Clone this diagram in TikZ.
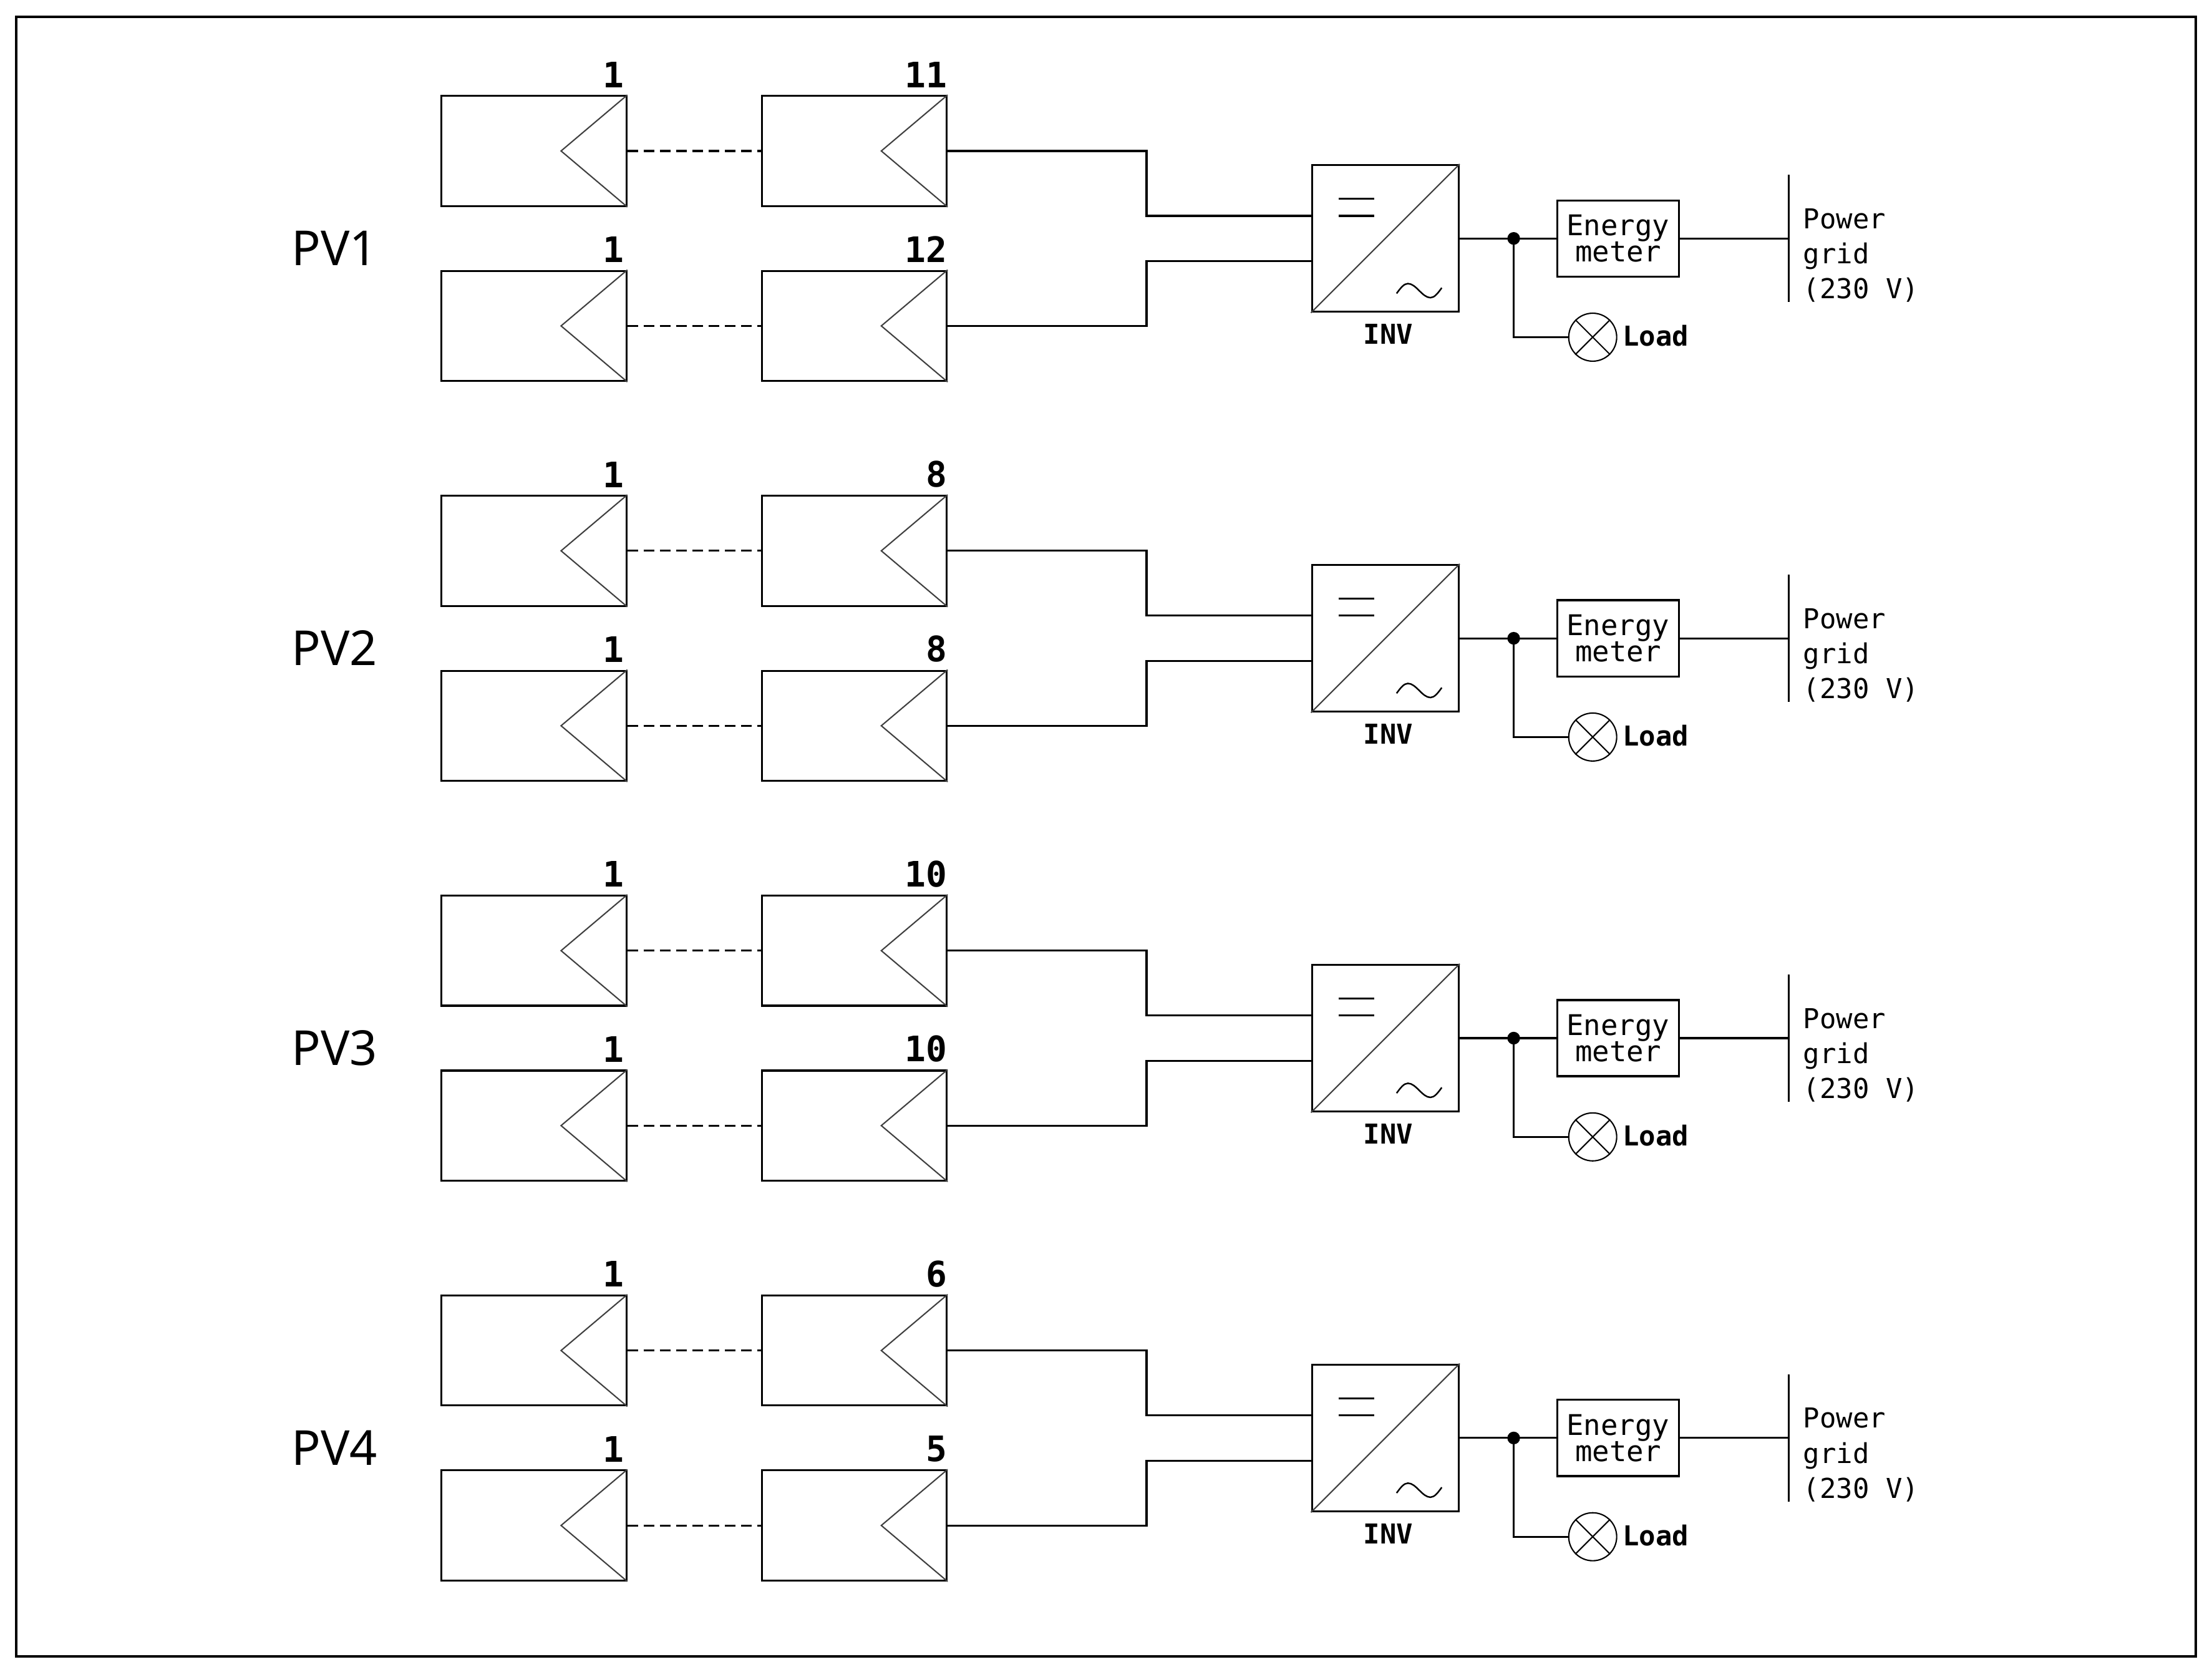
\documentclass[tikz,border=0pt]{standalone}
\usepackage{fontspec}
\setmainfont{DejaVu Sans Mono}
\newfontfamily\pvfont{Noto Sans}
\usetikzlibrary{calc}
\begin{document}
\begin{tikzpicture}[x=0.02262cm,y=-0.02262cm,
  wire/.style={line width=0.9pt},
  module/.style={draw,line width=0.9pt,minimum width=2.963cm,minimum height=1.764cm,inner sep=0pt},
  tri/.style={line width=0.6pt,draw=black!75},
  inv/.style={draw,line width=0.9pt,minimum size=2.352cm,inner sep=0pt},
  meter/.style={draw,line width=0.9pt,minimum width=1.945cm,minimum height=1.221cm,inner sep=0pt,font=\fontsize{13}{14}\selectfont,align=center},
  lamp/.style={draw,circle,line width=0.6pt,minimum size=0.769cm,inner sep=0pt},
  num/.style={font=\fontsize{16}{18}\bfseries\selectfont,inner sep=0pt,anchor=south east},
  lbl/.style={font=\fontsize{12.5}{16}\bfseries\selectfont,inner sep=0pt},
  pv/.style={font=\pvfont\fontsize{22}{24}\selectfont,inner sep=0pt},
  dashwire/.style={line width=0.9pt,dash pattern=on 5pt off 2.4pt}]
\useasboundingbox (0,0) rectangle (1568,1185);
\node[draw,line width=1pt,minimum width=34.94cm,minimum height=26.28cm,inner sep=0pt] (frame) at (784,593) {};
\foreach \r/\na/\nb in {0/11/12,1/8/8,2/10/10,3/6/5}{
  \pgfmathsetmacro{\dy}{283.4*\r}
  \node[pv] (pv\r) at (237,176+\dy) {PV\the\numexpr\r+1\relax};
  \node[module] (a\r) at (378.5,107+\dy) {};
  \node[module] (b\r) at (605.5,107+\dy) {};
  \node[module] (c\r) at (378.5,231+\dy) {};
  \node[module] (d\r) at (605.5,231+\dy) {};
  \foreach \m in {a\r,b\r,c\r,d\r}{
    \draw[tri] (\m.north east) -- ($(\m.east)+(-47,0)$) -- (\m.south east);
  }
  \node[num] (na\r) at ($(a\r.north east)+(-2,-5)$) {1};
  \node[num] (nb\r) at ($(b\r.north east)+(0,-5)$) {\na};
  \node[num] (nc\r) at ($(c\r.north east)+(-2,-5)$) {1};
  \node[num] (nd\r) at ($(d\r.north east)+(0,-5)$) {\nb};
  \draw[dashwire] (a\r.east) -- (b\r.west);
  \draw[dashwire] (c\r.east) -- (d\r.west);
  \node[inv] (inv\r) at (982,169+\dy) {};
  \draw[line width=0.6pt,draw=black!75] (inv\r.south west) -- (inv\r.north east);
  \draw[line width=0.9pt] (949,141+\dy) -- (974,141+\dy) (949,153+\dy) -- (974,153+\dy);
  \draw[line width=0.7pt] (990,208+\dy) sin (998,201+\dy) cos (1006,206+\dy) sin (1014,211+\dy) cos (1022,204+\dy);
  \node[lbl] (il\r) at (984,237+\dy) {INV};
  \draw[wire] (b\r.east) -- ++(141,0) |- ($(inv\r.west)+(0,-16)$);
  \draw[wire] (d\r.east) -- ++(141,0) |- ($(inv\r.west)+(0,16)$);
  \node[meter] (em\r) at (1147,169+\dy) {Energy\\[-2pt]meter};
  \coordinate (dot\r) at (1073,169+\dy);
  \draw[wire] (inv\r.east) -- (em\r.west);
  \fill (dot\r) circle (4.5);
  \coordinate (gm\r) at (1268,169+\dy);
  \coordinate (gt\r) at (1268,124+\dy);
  \coordinate (gb\r) at (1268,214+\dy);
  \draw[wire] (em\r.east) -- (gm\r);
  \draw[line width=0.9pt] (gt\r) -- (gb\r);
  \node[lbl,font=\fontsize{12.5}{16}\selectfont,align=left,anchor=west] (pg\r) at (1278,181+\dy) {Power\\grid\\(230 V)};
  \node[lamp] (ld\r) at (1129,239+\dy) {};
  \draw[line width=0.6pt] (ld\r.45) -- (ld\r.225) (ld\r.135) -- (ld\r.315);
  \draw[wire] (dot\r) |- (ld\r.west);
  \node[lbl,anchor=west] (ll\r) at (1150,238+\dy) {Load};
}
\end{tikzpicture}
\end{document}
